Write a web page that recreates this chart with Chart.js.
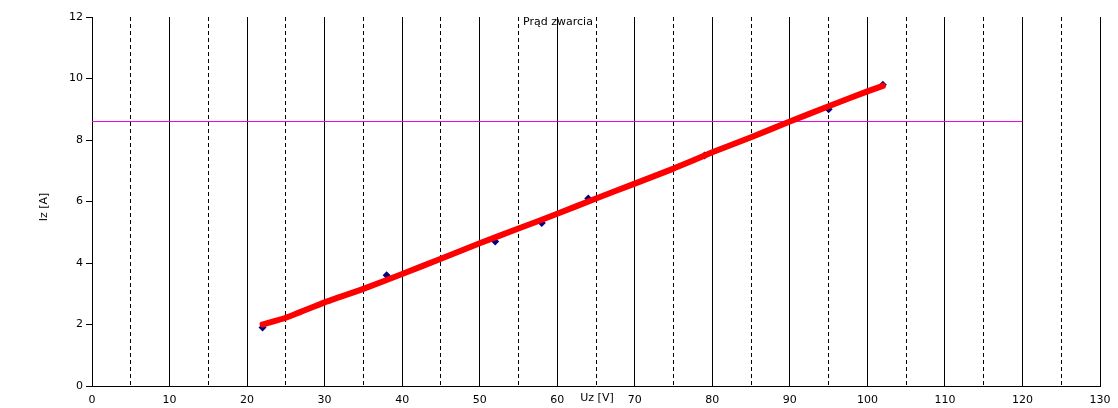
<!DOCTYPE html>
<html>
<head>
<meta charset="utf-8">
<script src="https://cdn.jsdelivr.net/npm/chart.js@4"></script>
<style>
  html, body { margin: 0; padding: 0; background: #fff; }
  #wrap { width: 1118px; height: 408px; }
</style>
</head>
<body>
<div id="wrap"><canvas id="chart" width="1118" height="408"></canvas></div>
<script>
// measured points (Uz [V], Iz [A])
const uzPoints = [22, 38, 52, 58, 64, 79, 95, 102];
const izPoints = [1.9, 3.6, 4.7, 5.3, 6.1, 7.5, 9.0, 9.8];

// hand drawn trend line
const uzTrend = [22, 25, 30, 35, 40, 45, 50, 55, 60, 65, 70, 75, 80, 85, 90, 95, 100, 102];
const izTrend = [2.0, 2.22, 2.72, 3.16, 3.64, 4.14, 4.64, 5.12, 5.6, 6.1, 6.58, 7.07, 7.6, 8.09, 8.6, 9.1, 9.58, 9.76];

// horizontal reference line
const refLineX = [0, 120];
const refLineY = [8.6, 8.6];

const chartTitle = "Prąd zwarcia";
const xTitle = "Uz [V]";
const yTitle = "Iz [A]";

const FONT = "DejaVu Sans";

const toXY = (xs, ys) => xs.map((x, i) => ({ x: x, y: ys[i] }));

// draws title + axis titles where the original has them
const labelsPlugin = {
  id: "labels",
  afterDraw(chart) {
    const ctx = chart.ctx;
    ctx.save();
    ctx.fillStyle = "#000";
    ctx.font = "11px '" + FONT + "'";
    ctx.textAlign = "center";
    ctx.textBaseline = "middle";
    ctx.fillText(chartTitle, 558, 22);
    ctx.fillText(xTitle, 597, 398);
    ctx.translate(44, 207);
    ctx.rotate(-Math.PI / 2);
    ctx.fillText(yTitle, 0, 0);
    ctx.restore();
  },
};

new Chart(document.getElementById("chart"), {
  type: "scatter",
  data: {
    datasets: [
      {
        label: "trend",
        data: toXY(uzTrend, izTrend),
        showLine: true,
        borderColor: "#ff0000",
        borderWidth: 6,
        borderCapStyle: "round",
        borderJoinStyle: "round",
        pointRadius: 0,
        tension: 0.15,
      },
      {
        label: "pomiary",
        data: toXY(uzPoints, izPoints),
        pointStyle: "rectRot",
        pointRadius: 4,
        backgroundColor: "#000080",
        borderColor: "#000080",
        borderWidth: 0,
      },
      {
        label: "ref",
        data: toXY(refLineX, refLineY),
        showLine: true,
        borderColor: "rgb(230,0,230)",
        borderWidth: 1,
        pointRadius: 0,
      },
    ],
  },
  options: {
    responsive: false,
    animation: false,
    layout: { padding: { top: 17, right: 18, left: 0, bottom: 0 } },
    plugins: {
      legend: { display: false },
      tooltip: { enabled: false },
    },
    scales: {
      x: {
        type: "linear",
        position: "bottom",
        min: 0,
        max: 130,
        afterFit: (scale) => {
          scale.height = 22;
          scale.paddingLeft = 0;
          scale.paddingRight = 0;
        },
        ticks: {
          stepSize: 10,
          padding: 8,
          color: "#000",
          font: { family: FONT, size: 11 },
          maxRotation: 0,
        },
        grid: {
          drawTicks: false,
          color: (c) => (c.tick && c.tick.value === 0 ? "rgba(0,0,0,0)" : "#000"),
          lineWidth: 1,
        },
        border: { display: true, color: "#000", width: 1 },
      },
      x2: {
        type: "linear",
        position: "bottom",
        min: 0,
        max: 130,
        afterFit: (scale) => {
          scale.height = 0;
          scale.paddingLeft = 0;
          scale.paddingRight = 0;
        },
        ticks: { display: false, stepSize: 5 },
        grid: {
          drawTicks: false,
          color: (c) => (c.tick && c.tick.value % 10 === 5 ? "#000" : "rgba(0,0,0,0)"),
          lineWidth: 1,
        },
        border: { display: false, dash: [4, 3] },
      },
      y: {
        type: "linear",
        min: 0,
        max: 12,
        afterFit: (scale) => {
          scale.width = 92;
          scale.paddingTop = 0;
          scale.paddingBottom = 0;
        },
        ticks: {
          stepSize: 2,
          padding: 3,
          color: "#000",
          font: { family: FONT, size: 11 },
        },
        grid: {
          drawOnChartArea: false,
          drawTicks: true,
          tickLength: 6,
          tickColor: "#000",
        },
        border: { display: true, color: "#000", width: 1 },
      },
    },
  },
  plugins: [labelsPlugin],
});
</script>
</body>
</html>
